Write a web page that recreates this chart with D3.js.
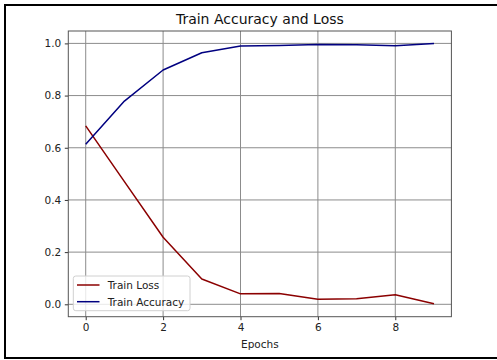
<!DOCTYPE html>
<html>
<head>
<meta charset="utf-8">
<script src="https://cdn.jsdelivr.net/npm/d3@7"></script>
<style>
	body { margin: 0; background: #fff; }
	svg { display: block; font-family: "DejaVu Sans", sans-serif; }
</style>
</head>
<body>
<svg id="chart" width="497" height="360"></svg>
<script>

var epochs = [0, 1, 2, 3, 4, 5, 6, 7, 8, 9];

var trainLoss = [0.684, 0.470, 0.257, 0.097, 0.040, 0.041, 0.019, 0.021, 0.037, 0.002];
var trainAccuracy = [0.613, 0.779, 0.898, 0.964, 0.990, 0.992, 0.996, 0.995, 0.991, 1.000];

var xTicks = [0, 2, 4, 6, 8];
var yTicks = [0.0, 0.2, 0.4, 0.6, 0.8, 1.0];

var series = [
	{ name: "Train Loss", values: trainLoss, color: "#8b0000" },
	{ name: "Train Accuracy", values: trainAccuracy, color: "#000080" }
];

var svg = d3.select("#chart");

var plot = { left: 68.3, right: 451.4, top: 31, bottom: 316.7 };

var x = d3.scaleLinear().domain([-0.45, 9.45]).range([plot.left, plot.right]);
var y = d3.scaleLinear().domain([-0.0475, 1.0475]).range([plot.bottom, plot.top]);

// outer frame (right side runs off the picture)
svg.append("rect")
	.attr("x", 5)
	.attr("y", 5)
	.attr("width", 600)
	.attr("height", 353)
	.attr("fill", "none")
	.attr("stroke", "#000")
	.attr("stroke-width", 2);

// grid
svg.append("g")
	.selectAll("line")
	.data(xTicks)
	.enter().append("line")
	.attr("x1", function (d) { return x(d); })
	.attr("x2", function (d) { return x(d); })
	.attr("y1", plot.top)
	.attr("y2", plot.bottom)
	.attr("stroke", "#8c8c8c")
	.attr("stroke-width", 1);

svg.append("g")
	.selectAll("line")
	.data(yTicks)
	.enter().append("line")
	.attr("x1", plot.left)
	.attr("x2", plot.right)
	.attr("y1", function (d) { return y(d); })
	.attr("y2", function (d) { return y(d); })
	.attr("stroke", "#8c8c8c")
	.attr("stroke-width", 1);

// axes
var xAxis = svg.append("g")
	.attr("transform", "translate(0," + plot.bottom + ")")
	.call(d3.axisBottom(x).tickValues(xTicks).tickSize(3.5).tickPadding(3.5).tickFormat(d3.format("d")));

var yAxis = svg.append("g")
	.attr("transform", "translate(" + plot.left + ",0)")
	.call(d3.axisLeft(y).tickValues(yTicks).tickSize(3.5).tickPadding(3.5).tickFormat(d3.format(".1f")));

[xAxis, yAxis].forEach(function (a) {
	a.select(".domain").remove();
	a.selectAll("line").attr("stroke", "#333");
	a.selectAll("text")
		.attr("fill", "#222")
		.style("font-family", "DejaVu Sans")
		.style("font-size", "10.5px");
});

// lines
var line = d3.line()
	.x(function (d, i) { return x(epochs[i]); })
	.y(function (d) { return y(d); });

svg.append("g")
	.selectAll("path")
	.data(series)
	.enter().append("path")
	.attr("d", function (d) { return line(d.values); })
	.attr("fill", "none")
	.attr("stroke", function (d) { return d.color; })
	.attr("stroke-width", 1.5)
	.attr("stroke-linejoin", "round");

// spines
svg.append("rect")
	.attr("x", plot.left)
	.attr("y", plot.top)
	.attr("width", plot.right - plot.left)
	.attr("height", plot.bottom - plot.top)
	.attr("fill", "none")
	.attr("stroke", "#555")
	.attr("stroke-width", 1);

// title & label
svg.append("text")
	.attr("x", (plot.left + plot.right) / 2)
	.attr("y", 24)
	.attr("text-anchor", "middle")
	.attr("fill", "#111")
	.style("font-size", "14px")
	.text("Train Accuracy and Loss");

svg.append("text")
	.attr("x", (plot.left + plot.right) / 2)
	.attr("y", 347.5)
	.attr("text-anchor", "middle")
	.attr("fill", "#222")
	.style("font-size", "10.5px")
	.text("Epochs");

// legend
var legend = svg.append("g");

legend.append("rect")
	.attr("x", 73.3)
	.attr("y", 276)
	.attr("width", 116.7)
	.attr("height", 34.7)
	.attr("rx", 2.5)
	.attr("fill", "#fff")
	.attr("fill-opacity", 0.8)
	.attr("stroke", "#d0d0d0")
	.attr("stroke-width", 1);

var items = legend.selectAll("g.item")
	.data(series)
	.enter().append("g")
	.attr("class", "item")
	.attr("transform", function (d, i) { return "translate(0," + (285 + i * 16.7) + ")"; });

items.append("line")
	.attr("x1", 77)
	.attr("x2", 99.5)
	.attr("stroke", function (d) { return d.color; })
	.attr("stroke-width", 1.5);

items.append("text")
	.attr("x", 107.7)
	.attr("y", 3.8)
	.attr("fill", "#222")
	.style("font-size", "10.5px")
	.text(function (d) { return d.name; });

</script>
</body>
</html>
